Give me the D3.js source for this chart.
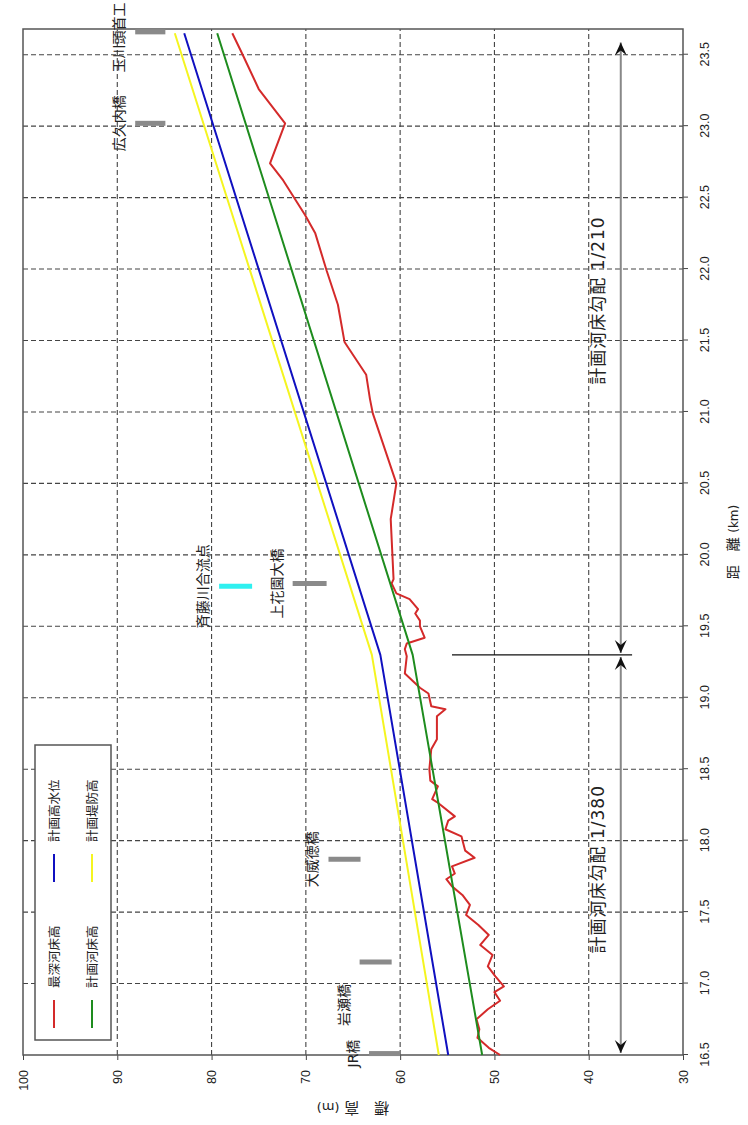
<!DOCTYPE html>
<meta charset="utf-8">
<style>
body{margin:0;background:#fff}
text{font-family:'DejaVu Sans','Noto Sans CJK JP',sans-serif;fill:#222}
.grid line{stroke:#444;stroke-width:1.1;stroke-dasharray:5,3}
</style>
<svg id="svg" width="748" height="1125"></svg>
<script src="https://d3js.org/d3.v7.min.js"></script>
<script>

// ticks
var kmTicks = [16.5,17.0,17.5,18.0,18.5,19.0,19.5,20.0,20.5,21.0,21.5,22.0,22.5,23.0,23.5];
var elevTicks = [30,40,50,60,70,80,90,100];

// [距離 km, 標高 m]
var deepestBed = [
  [16.50,49.4],[16.55,50.6],[16.62,51.8],[16.68,51.6],[16.75,51.9],[16.82,50.7],
  [16.88,49.4],[16.94,50.0],[16.98,49.0],[17.05,49.9],[17.12,50.7],[17.20,50.2],
  [17.27,51.5],[17.34,50.6],[17.41,51.7],[17.48,53.0],[17.55,52.6],[17.62,53.4],
  [17.68,54.5],[17.73,55.1],[17.77,54.2],[17.82,54.5],[17.88,52.1],[17.93,53.1],
  [18.03,53.5],[18.08,55.2],[18.14,54.9],[18.17,54.2],[18.27,56.1],[18.29,56.6],
  [18.38,56.0],[18.42,56.8],[18.50,56.9],[18.64,56.7],[18.71,56.1],[18.87,56.1],
  [18.92,55.2],[18.94,56.7],[19.03,57.0],[19.07,57.9],[19.17,59.5],[19.29,59.3],
  [19.34,59.5],[19.38,59.3],[19.42,57.4],[19.50,57.9],[19.54,57.9],[19.59,58.4],
  [19.62,58.1],[19.69,59.0],[19.73,60.4],[19.80,60.9],[19.83,60.7],[20.25,61.0],
  [20.50,60.4],[20.99,62.9],[21.09,63.2],[21.26,63.6],[21.49,65.9],[21.75,66.6],
  [21.99,67.8],[22.25,69.0],[22.38,70.1],[22.62,72.4],[22.74,73.8],[23.02,72.2],
  [23.26,75.0],[23.50,76.7],[23.65,77.8]
];
var planBed = [[16.5,51.3],[19.3,58.67],[23.65,79.4]];
var planHWL = [[16.5,54.9],[19.3,62.1],[23.65,82.9]];
var planLevee = [[16.5,55.9],[19.3,63.0],[23.65,83.9]];

var seriesNames = ['最深河床高','計画河床高','計画高水位','計画堤防高'];
var seriesColors = ['#d42a2a','#1e8c1e','#1010c0','#f5f520'];

// 橋など
var stations = [
  {name:'玉川頭首工', km:23.66, lo:84.9, hi:88.1, labelKm:23.62},
  {name:'広久内橋', km:23.02, lo:84.9, hi:88.1},
  {name:'斉藤川合流点', km:19.78, lo:75.7, hi:79.2, cyan:true},
  {name:'上花園大橋', km:19.80, lo:67.8, hi:71.4},
  {name:'大威徳橋', km:17.87, lo:64.2, hi:67.6},
  {name:'岩瀬橋', km:17.15, lo:60.9, hi:64.3, labelKm:16.85},
  {name:'JR橋', km:16.51, lo:60.0, hi:63.3}
];

// 計画河床勾配
var slopes = [
  {from:16.5, to:19.3, label:'計画河床勾配 1/380', labelKm:17.8},
  {from:19.3, to:23.6, label:'計画河床勾配 1/210', labelKm:21.78}
];
var slopeElev = 36.6;
var breakKm = 19.3, breakTop = 54.5, breakBottom = 35.4;

var W = 1026, H = 660;
var svg = d3.select('#svg');
svg.append('rect').attr('width',748).attr('height',1125).attr('fill','#fff');

// whole chart is turned a quarter to the left
var g = svg.append('g').attr('transform','translate(23,1055) rotate(-90)');

var x = d3.scaleLinear().domain([16.5,23.68]).range([0,W]);
var y = d3.scaleLinear().domain([30,100]).range([H,0]);

// grid
var grid = g.append('g').attr('class','grid');
grid.selectAll('.gx').data(kmTicks.slice(1)).enter().append('line')
  .attr('x1',d=>x(d)).attr('x2',d=>x(d)).attr('y1',0).attr('y2',H);
grid.selectAll('.gy').data(elevTicks.slice(1,-1)).enter().append('line')
  .attr('y1',d=>y(d)).attr('y2',d=>y(d)).attr('x1',0).attr('x2',W);

// axes
var xa = g.append('g').attr('transform','translate(0,'+H+')')
  .call(d3.axisBottom(x).tickValues(kmTicks).tickFormat(d3.format('.1f')).tickSize(5).tickPadding(12));
var ya = g.append('g')
  .call(d3.axisLeft(y).tickValues(elevTicks).tickSize(5).tickPadding(10));
[xa,ya].forEach(a=>{
  a.select('.domain').remove();
  a.selectAll('line').attr('stroke','#444');
  a.selectAll('text').attr('font-size',12.5).style('font-family',"'Liberation Sans',sans-serif").attr('fill','#333');
});

g.append('rect').attr('width',W).attr('height',H)
  .attr('fill','none').attr('stroke','#555').attr('stroke-width',1.5);

// axis titles
var xt = g.append('text').attr('x',W/2).attr('y',H+55).attr('text-anchor','middle').attr('font-size',14);
xt.append('tspan').text('距　離 ');
xt.append('tspan').attr('font-size',12).text('(km)');
var yt = g.append('text').attr('transform','translate(-48,'+H/2+') rotate(-90)')
  .attr('text-anchor','middle').attr('font-size',15);
yt.append('tspan').text('標　高 ');
yt.append('tspan').attr('font-size',13).text('(m)');

// lines
var line = d3.line().x(d=>x(d[0])).y(d=>y(d[1]));
[deepestBed, planBed, planHWL, planLevee].forEach((s,i)=>{
  g.append('path').datum(s).attr('d',line)
    .attr('fill','none').attr('stroke',seriesColors[i]).attr('stroke-width',2)
    .attr('stroke-linejoin','round');
});

// stations
stations.forEach(s=>{
  g.append('line')
    .attr('x1',x(s.km)).attr('x2',x(s.km)).attr('y1',y(s.lo)).attr('y2',y(s.hi))
    .attr('stroke',s.cyan?'#2ff0f0':'#8a8a8a').attr('stroke-width',5);
  g.append('text')
    .attr('x',x(s.labelKm||s.km)).attr('y',y(s.hi)-11)
    .attr('text-anchor','middle').attr('font-size',14).text(s.name);
});

// slope arrows
function head(px,py,dir){
  g.append('path')
    .attr('d','M'+px+','+py+'L'+(px-dir*13)+','+(py-6)+'L'+(px-dir*8)+','+py+'L'+(px-dir*13)+','+(py+6)+'Z')
    .attr('fill','#111');
}
var ay = y(slopeElev);
slopes.forEach(s=>{
  var a = x(s.from)+2, b = x(s.to)-2;
  g.append('line').attr('x1',a).attr('x2',b).attr('y1',ay).attr('y2',ay)
    .attr('stroke','#888').attr('stroke-width',2);
  head(a,ay,-1);
  head(b,ay,1);
  g.append('text').attr('x',x(s.labelKm)).attr('y',ay-17)
    .attr('text-anchor','middle').attr('font-size',17).attr('letter-spacing',1)
    .text(s.label);
});
g.append('line').attr('x1',x(breakKm)).attr('x2',x(breakKm))
  .attr('y1',y(breakTop)).attr('y2',y(breakBottom)).attr('stroke','#111').attr('stroke-width',1.2);

// legend
var lg = g.append('g');
lg.append('rect').attr('x',15).attr('y',12).attr('width',295).attr('height',76)
  .attr('fill','#fff').attr('stroke','#555').attr('stroke-width',1.5);
seriesNames.forEach((n,i)=>{
  var lx = (i<2) ? 27 : 173, ly = (i%2===0) ? 31 : 69;
  lg.append('line').attr('x1',lx).attr('x2',lx+28).attr('y1',ly).attr('y2',ly)
    .attr('stroke',seriesColors[i]).attr('stroke-width',2);
  lg.append('text').attr('x',lx+40).attr('y',ly).attr('dy','0.38em')
    .attr('font-size',12.5).text(n);
});
</script>
